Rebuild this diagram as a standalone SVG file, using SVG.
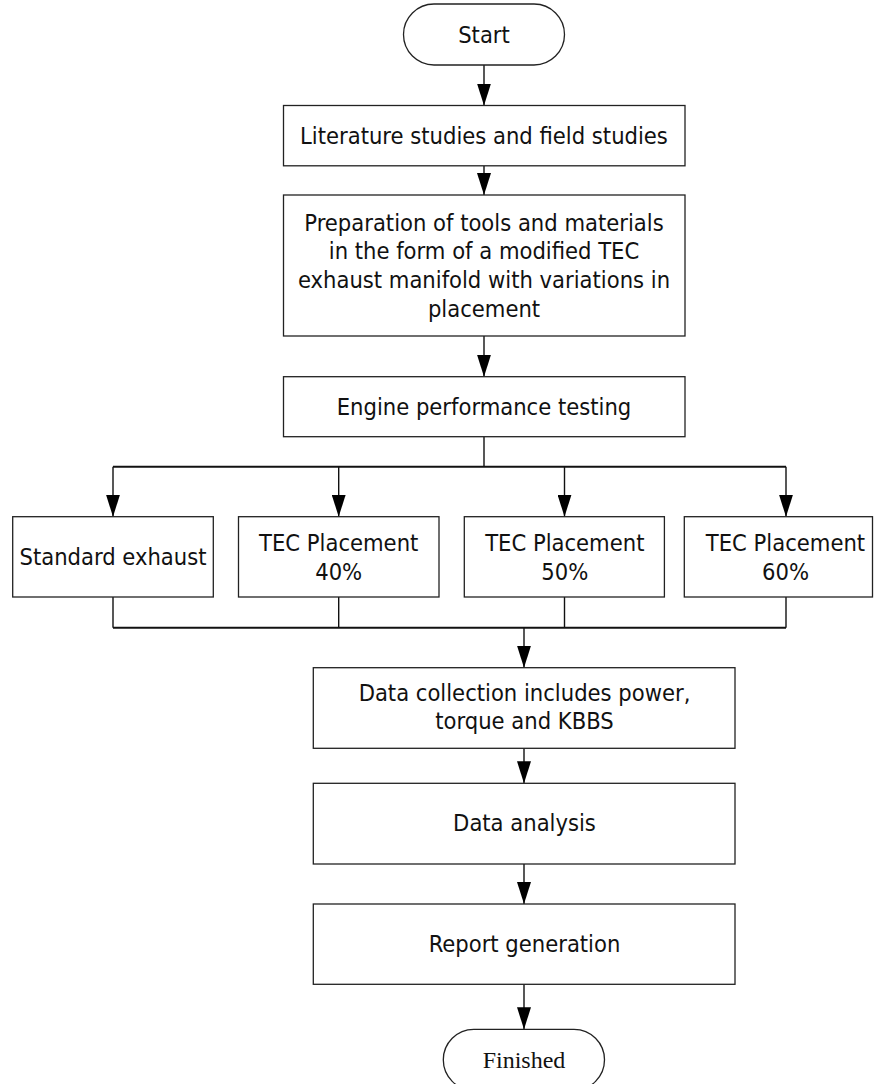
<svg xmlns="http://www.w3.org/2000/svg" width="874" height="1084" viewBox="0 0 874 1084">
<defs>
<style>
.box{fill:#fff;stroke:#222;stroke-width:1.3}
.t{font-family:"DejaVu Sans Condensed","DejaVu Sans",sans-serif;font-stretch:condensed;font-size:23.5px;fill:#111;text-anchor:middle}
.ts{font-family:"Liberation Serif","Times New Roman",serif;font-size:24px;fill:#111;text-anchor:middle}
.c{fill:none;stroke:#111;stroke-width:1.4}
.a{marker-end:url(#arr)}
</style>
<marker id="arr" markerUnits="userSpaceOnUse" markerWidth="22" markerHeight="14" refX="22" refY="7" orient="auto">
<path d="M0,0 L22,7 L0,14 z" fill="#000"/>
</marker>
</defs>
<g id="connectors">
<line class="c a" x1="484" y1="65" x2="484" y2="105.5"/>
<line class="c a" x1="484" y1="166" x2="484" y2="195"/>
<line class="c a" x1="484" y1="336" x2="484" y2="376.7"/>
<polyline class="c" points="484,436.7 484,466.7"/>
<line class="c" x1="113" y1="466.7" x2="786" y2="466.7" style="stroke-width:2"/>
<line class="c a" x1="113" y1="466.7" x2="113" y2="516.7"/>
<line class="c a" x1="338.7" y1="466.7" x2="338.7" y2="516.7"/>
<line class="c a" x1="564.5" y1="466.7" x2="564.5" y2="516.7"/>
<line class="c a" x1="786" y1="466.7" x2="786" y2="516.7"/>
<line class="c" x1="113" y1="597" x2="113" y2="627.7"/>
<line class="c" x1="338.7" y1="597" x2="338.7" y2="627.7"/>
<line class="c" x1="564.5" y1="597" x2="564.5" y2="627.7"/>
<line class="c" x1="786" y1="597" x2="786" y2="627.7"/>
<line class="c" x1="113" y1="627.7" x2="786" y2="627.7" style="stroke-width:2"/>
<line class="c a" x1="524" y1="627.7" x2="524" y2="667.7"/>
<line class="c a" x1="524" y1="748.3" x2="524" y2="783.3"/>
<line class="c a" x1="524" y1="864" x2="524" y2="904"/>
<line class="c a" x1="524" y1="984.3" x2="524" y2="1029.3"/>
</g>
<g id="start">
<rect class="box" x="403.5" y="4" width="161" height="61" rx="30.5" ry="30.5"/>
<text class="t" x="484" y="43.3">Start</text>
</g>
<g id="literature">
<rect class="box" x="283.5" y="105.5" width="401.5" height="60.3"/>
<text class="t" x="484" y="143.5">Literature studies and field studies</text>
</g>
<g id="preparation">
<rect class="box" x="283.5" y="195" width="401.5" height="141"/>
<text class="t" x="484" y="230.5">Preparation of tools and materials</text>
<text class="t" x="484" y="259.3">in the form of a modified TEC</text>
<text class="t" x="484" y="288.1">exhaust manifold with variations in</text>
<text class="t" x="484" y="316.9">placement</text>
</g>
<g id="engine">
<rect class="box" x="283.5" y="376.7" width="401.5" height="60"/>
<text class="t" x="484" y="414.5">Engine performance testing</text>
</g>
<g id="standard">
<rect class="box" x="12.7" y="516.7" width="200.6" height="80.3"/>
<text class="t" x="113" y="565">Standard exhaust</text>
</g>
<g id="tec40">
<rect class="box" x="238.5" y="516.7" width="200.5" height="80.3"/>
<text class="t" x="338.7" y="551">TEC Placement</text>
<text class="t" x="338.7" y="580">40%</text>
</g>
<g id="tec50">
<rect class="box" x="464.3" y="516.7" width="200.1" height="80.3"/>
<text class="t" x="564.8" y="551">TEC Placement</text>
<text class="t" x="564.8" y="580">50%</text>
</g>
<g id="tec60">
<rect class="box" x="684.3" y="516.7" width="188.2" height="80.3"/>
<text class="t" x="785.5" y="551">TEC Placement</text>
<text class="t" x="785.5" y="580">60%</text>
</g>
<g id="collection">
<rect class="box" x="313.3" y="667.7" width="421.7" height="80.6"/>
<text class="t" x="524.5" y="701">Data collection includes power,</text>
<text class="t" x="524.5" y="729.3">torque and KBBS</text>
</g>
<g id="analysis">
<rect class="box" x="313.3" y="783.3" width="421.7" height="80.7"/>
<text class="t" x="524.5" y="830.7">Data analysis</text>
</g>
<g id="report">
<rect class="box" x="313.3" y="904" width="421.7" height="80.3"/>
<text class="t" x="524.5" y="951.7">Report generation</text>
</g>
<g id="finished">
<rect class="box" x="443.3" y="1029.3" width="161.2" height="61" rx="30.5" ry="30.5"/>
<text class="ts" x="524" y="1067.7">Finished</text>
</g>
</svg>
